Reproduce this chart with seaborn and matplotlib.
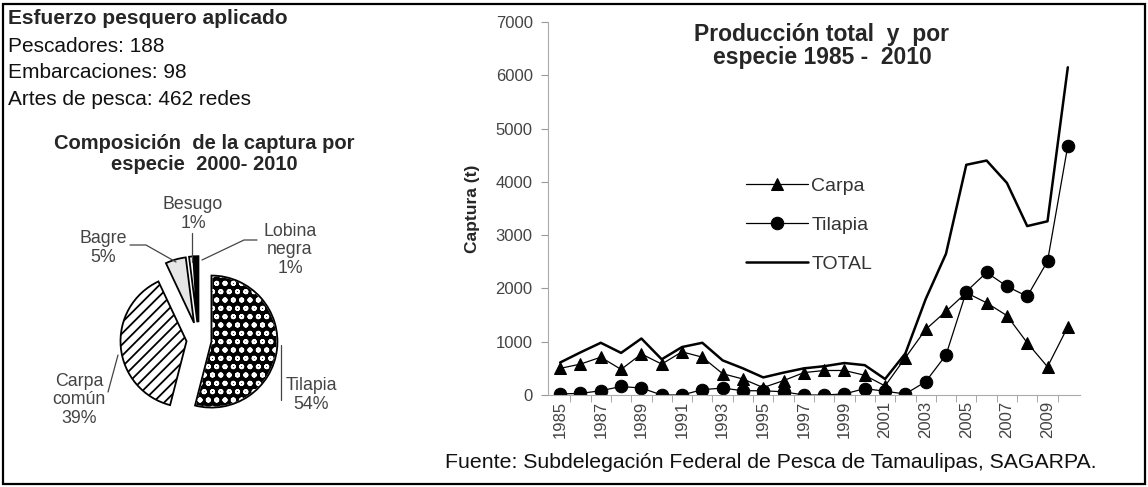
import matplotlib
matplotlib.use('Agg')
import numpy as np
import pandas as pd
import seaborn as sns
import matplotlib.pyplot as plt
from matplotlib.patches import Rectangle, Wedge

sns.set_style('white')
plt.rcParams['font.family'] = ['Liberation Sans', 'DejaVu Sans']
plt.rcParams['hatch.linewidth'] = 1.3

# datos
years = [1985, 1986, 1987, 1988, 1989, 1990, 1991, 1992, 1993, 1994, 1995, 1996, 1997,
         1998, 1999, 2000, 2001, 2002, 2003, 2004, 2005, 2006, 2007, 2008, 2009, 2010]
carpa = [500, 580, 710, 480, 770, 580, 810, 710, 400, 300, 140, 270, 420,
         460, 460, 370, 170, 700, 1230, 1570, 1920, 1730, 1490, 980, 530, 1280]
tilapia = [20, 30, 80, 160, 130, 0, 0, 100, 130, 80, 80, 60, 0,
           0, 20, 120, 70, 20, 250, 750, 1940, 2300, 2040, 1850, 2510, 4680]
total = [610, 800, 980, 790, 1060, 670, 900, 980, 650, 500, 330, 420, 500,
         540, 600, 560, 300, 780, 1800, 2650, 4320, 4400, 3980, 3170, 3260, 6150]
year_labels = ['1985', '1987', '1989', '1991', '1993', '1995', '1997', '1999',
               '2001', '2003', '2005', '2007', '2009']

pie_species = ['Tilapia', 'Carpa\ncomún', 'Bagre', 'Besugo', 'Lobina\nnegra']
pie_pct = [54, 39, 5, 1, 1]

info_lines = ['Pescadores: 188', 'Embarcaciones: 98', 'Artes de pesca: 462 redes']

df = pd.DataFrame({'year': years, 'Carpa': carpa, 'Tilapia': tilapia, 'TOTAL': total})

W, H = 1148, 487
fig = plt.figure(figsize=(W / 100, H / 100), dpi=100)

def fx(px):
    return px / W

def fy(py):
    return 1 - py / H

# marco
fig.patches.append(Rectangle((fx(3), fy(484)), fx(1142), 1 - 7 / H, transform=fig.transFigure,
                             fill=False, edgecolor='black', linewidth=1.6))

# texto arriba a la izquierda
fig.text(fx(8), fy(18), 'Esfuerzo pesquero aplicado', fontsize=15, fontweight='bold', va='center')
for i, t in enumerate(info_lines):
    fig.text(fx(8), fy(46 + 27 * i), t, fontsize=15, va='center', color='#111111')

# ---- pastel ----
fig.text(fx(204), fy(154), 'Composición  de la captura por\nespecie  2000- 2010', fontsize=14.5,
         fontweight='bold', ha='center', va='center', linespacing=1.1)

cx, cy, side = 199, 340, 198
axp = fig.add_axes([fx(cx - side / 2), fy(cy + side / 2), fx(side), side / H])
wedges, _ = axp.pie(pie_pct, startangle=90, counterclock=False,
                    explode=[0.19, 0.19, 0.27, 0.27, 0.27],
                    colors=['black', 'white', '#e6e6e6', 'white', 'black'],
                    wedgeprops=dict(edgecolor='black', linewidth=1.3))
axp.set_xlim(-1.5, 1.5)
axp.set_ylim(-1.5, 1.5)
axp.set_aspect('equal')
axp.axis('off')

# Tilapia: fondo negro con puntos blancos
tw = wedges[0]
tw.set_edgecolor('white')
tw.set_hatch('oo')
axp.add_patch(Wedge(tw.center, tw.r, tw.theta1, tw.theta2, fill=False, edgecolor='black', linewidth=1.3))
wedges[1].set_hatch('///')

lab_kw = dict(fontsize=12.8, color='#444444', ha='center', va='center', linespacing=1.1)
fig.text(fx(311), fy(395), 'Tilapia\n54%', **lab_kw)
fig.text(fx(79), fy(400), 'Carpa\ncomún\n39%', **lab_kw)
fig.text(fx(103), fy(248), 'Bagre\n5%', **lab_kw)
fig.text(fx(193), fy(214), 'Besugo\n1%', **lab_kw)
fig.text(fx(290), fy(250), 'Lobina\nnegra\n1%', **lab_kw)
leaders = [
    ([281, 281], [345, 400]),
    ([108, 118], [392, 355]),
    ([130, 146, 176], [245, 245, 262]),
    ([192, 192], [233, 262]),
    ([257, 244, 202], [240, 240, 260]),
]
for xs, ys in leaders:
    fig.lines.append(plt.Line2D([fx(v) for v in xs], [fy(v) for v in ys], transform=fig.transFigure,
                                color='#444444', linewidth=0.9))

# ---- líneas ----
ax = fig.add_axes([fx(548), fy(395), fx(1080 - 548), (395 - 22) / H])
sns.lineplot(data=df, x='year', y='TOTAL', ax=ax, color='black', linewidth=1.8, label='TOTAL')
sns.lineplot(data=df, x='year', y='Tilapia', ax=ax, color='black', linewidth=0.9, marker='o',
             markersize=9, markeredgecolor='black', label='Tilapia')
sns.lineplot(data=df, x='year', y='Carpa', ax=ax, color='black', linewidth=0.9, marker='^',
             markersize=9, markeredgecolor='black', label='Carpa')

ax.set_xlim(1984.4, 2010.6)
ax.set_ylim(0, 7000)
ax.set_yticks(np.arange(0, 7001, 1000))
ax.set_xticks([int(v) for v in year_labels])
ax.set_xticklabels(year_labels, rotation=90)
ax.set_xticks(np.array(years[:-1]) + 0.5, minor=True)
ax.tick_params(axis='x', which='major', length=0, labelsize=12, labelcolor='#444444', pad=4)
ax.tick_params(axis='x', which='minor', length=5, color='#999999', direction='out', bottom=True)
ax.tick_params(axis='y', length=5, color='#999999', direction='out', left=True,
               labelsize=12, labelcolor='#444444', pad=6)
for s in ['top', 'right']:
    ax.spines[s].set_visible(False)
for s in ['left', 'bottom']:
    ax.spines[s].set_color('#aaaaaa')
ax.set_xlabel('')
ax.set_ylabel('Captura (t)', fontsize=12.5, fontweight='bold', labelpad=11)

h, l = ax.get_legend_handles_labels()
order = [l.index('Carpa'), l.index('Tilapia'), l.index('TOTAL')]
ax.legend([h[i] for i in order], [l[i] for i in order], loc='upper left',
          bbox_to_anchor=(fx(746), fy(177)), bbox_transform=fig.transFigure,
          frameon=False, fontsize=14, handlelength=3.2, handletextpad=0.15,
          labelspacing=1.1, borderpad=0, borderaxespad=0, labelcolor='#333333')

ax.text(0.515, 0.935, 'Producción total  y  por\nespecie 1985 -  2010', transform=ax.transAxes,
        fontsize=16.5, fontweight='bold', ha='center', va='center', linespacing=1.0)

fig.text(fx(445), fy(463), 'Fuente: Subdelegación Federal de Pesca de Tamaulipas, SAGARPA.',
         fontsize=15.3, va='center', color='#111111')

fig.savefig('out.png', dpi=100)
